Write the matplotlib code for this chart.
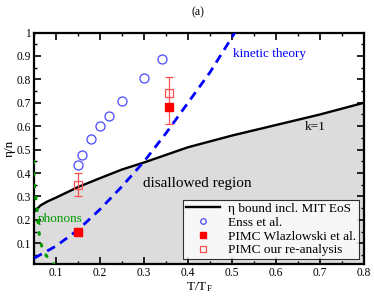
import matplotlib
matplotlib.use("Agg")
import matplotlib.pyplot as plt
from matplotlib.ticker import MultipleLocator, FuncFormatter
from matplotlib.lines import Line2D

plt.rcParams['font.family'] = ['Liberation Serif', 'DejaVu Serif']
plt.rcParams['mathtext.fontset'] = 'stix'

# eta bound incl. MIT EoS
bound_T = [0.05, 0.065, 0.08, 0.10, 0.15, 0.20, 0.25, 0.30, 0.40, 0.50, 0.60, 0.70, 0.80]
bound_eta = [0.235, 0.262, 0.278, 0.295, 0.34, 0.378, 0.415, 0.445, 0.51, 0.56, 0.605, 0.65, 0.70]

# kinetic theory
kin_T = [0.05, 0.10, 0.15, 0.20, 0.25, 0.30, 0.35, 0.40, 0.45, 0.50, 0.51]
kin_eta = [0.036, 0.088, 0.157, 0.245, 0.343, 0.449, 0.57, 0.70, 0.83, 0.98, 1.01]

# phonons
ph_T = [0.0495, 0.050, 0.052, 0.056, 0.058, 0.060, 0.064, 0.070, 0.085, 0.095]
ph_eta = [0.45, 0.371, 0.32, 0.271, 0.217, 0.164, 0.114, 0.068, 0.029, 0.012]

# Enss et al.
enss_T = [0.15, 0.16, 0.18, 0.20, 0.22, 0.25, 0.30, 0.34]
enss_eta = [0.435, 0.476, 0.544, 0.601, 0.645, 0.709, 0.808, 0.888]

# PIMC Wlazlowski et al.
wl_T = [0.15, 0.357]
wl_eta = [0.15, 0.68]

# PIMC our re-analysis
re_T = [0.15, 0.357]
re_eta = [0.35, 0.74]
re_err_lo = [0.05, 0.13]
re_err_hi = [0.05, 0.07]

fig = plt.figure(figsize=(3.74, 2.96), dpi=100)
ax = fig.add_axes([0.091, 0.107, 0.882, 0.783])

ax.fill_between(bound_T, 0, bound_eta, color='#dcdcdc', zorder=0)
ax.plot(bound_T, bound_eta, color='black', lw=1.7, zorder=3)
ax.plot(kin_T, kin_eta, color='#0000ff', lw=2.0, ls=(0, (3.2, 2.2)), zorder=4)
ax.plot(ph_T, ph_eta, color='#009900', lw=2.2, ls=(0, (0.6, 3.3)),
        dash_capstyle='round', zorder=4)
ax.plot(enss_T, enss_eta, ls='none', marker='o', ms=6.5, mfc='none',
        mec='#4a4aff', mew=0.9, zorder=5)
ax.errorbar(re_T, re_eta, yerr=[re_err_lo, re_err_hi], fmt='s', ms=6, mfc='none',
            mec='#ff5050', mew=0.9, ecolor='#ff5050', elinewidth=0.9,
            capsize=3, capthick=0.9, zorder=5)
ax.plot(wl_T, wl_eta, ls='none', marker='s', ms=5.5, color='#ff0000', zorder=6)

ax.set_xlim(0.05, 0.8)
ax.set_ylim(0.01, 1.0)
ax.xaxis.set_major_locator(MultipleLocator(0.1))
ax.xaxis.set_minor_locator(MultipleLocator(0.05))
ax.yaxis.set_major_locator(MultipleLocator(0.1))
ax.yaxis.set_minor_locator(MultipleLocator(0.05))
fmt = FuncFormatter(lambda v, p: ('%g' % round(v, 3)))
ax.xaxis.set_major_formatter(fmt)
ax.yaxis.set_major_formatter(fmt)
ax.tick_params(which='both', direction='in', top=True, right=True,
               labelsize=8.3, pad=2)
ax.tick_params(which='major', length=5, width=1.2)
ax.tick_params(which='minor', length=2.5, width=1.0)
for s in ax.spines.values():
    s.set_linewidth(1.6)

ax.set_xlabel(r'T/T$_\mathregular{F}$', fontsize=9.5, labelpad=1)
ax.set_ylabel('η/n', fontsize=9.5, labelpad=1)

ax.text(0.503, 0.909, 'kinetic theory', color='#0000ff', fontsize=9.5,
        va='center', ha='left')
ax.text(0.666, 0.598, 'k=1', color='black', fontsize=9.5, va='center', ha='left')
ax.text(0.298, 0.356, 'disallowed region', color='black', fontsize=11,
        va='center', ha='left')
ax.text(0.058, 0.203, 'phonons', color='#009900', fontsize=9.5,
        va='center', ha='left')
fig.text(0.53, 0.957, '(a)', fontsize=8.5, ha='center', va='center')

handles = [
    Line2D([], [], color='black', lw=1.7),
    Line2D([], [], ls='none', marker='o', ms=4, mfc='none', mec='#4a4aff', mew=0.9),
    Line2D([], [], ls='none', marker='s', ms=3.8, color='#ff0000'),
    Line2D([], [], ls='none', marker='s', ms=4, mfc='none', mec='#ff5050', mew=0.9),
]
labels = ['η bound incl. MIT EoS', 'Enss et al.', 'PIMC Wlazlowski et al.',
          'PIMC our re-analysis']
leg = ax.legend(handles, labels, loc='lower right', fontsize=9.5,
                frameon=True, fancybox=False, edgecolor='black',
                borderaxespad=0.4, borderpad=0.2, labelspacing=0.12,
                handlelength=2.6, handletextpad=0.6)
leg.get_frame().set_linewidth(0.8)

fig.savefig('out.png', dpi=100)
